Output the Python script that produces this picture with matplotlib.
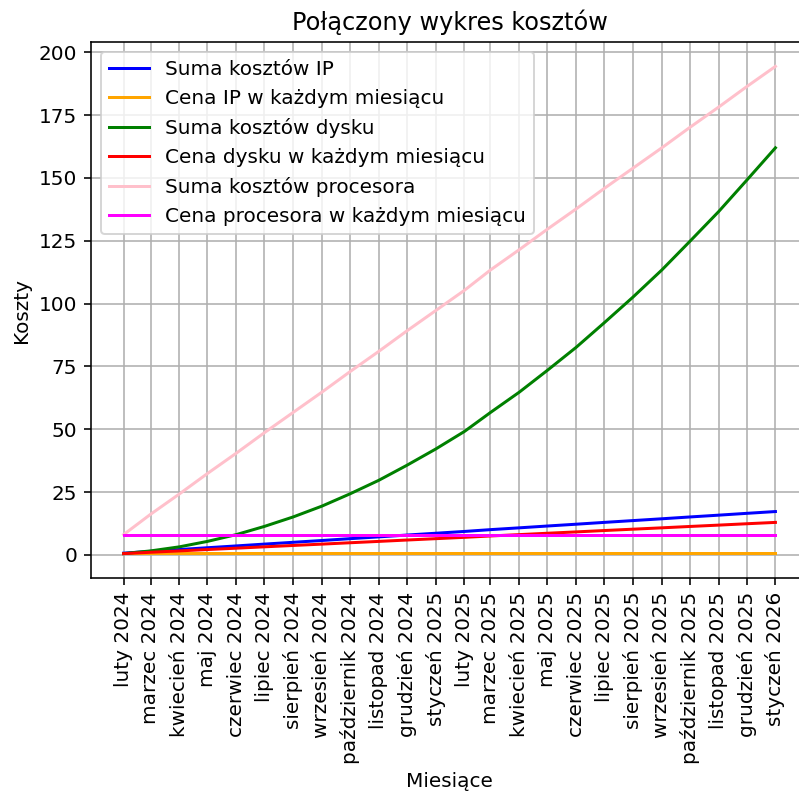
import matplotlib
matplotlib.use("Agg")
import matplotlib.pyplot as plt
import datetime as dt

dates = [dt.date(2024, m, 1) for m in range(2, 13)] + [dt.date(2025, m, 1) for m in range(1, 13)] + [dt.date(2026, 1, 1)]
labels = ["luty 2024", "marzec 2024", "kwiecień 2024", "maj 2024", "czerwiec 2024", "lipiec 2024",
          "sierpień 2024", "wrzesień 2024", "październik 2024", "listopad 2024", "grudzień 2024",
          "styczeń 2025", "luty 2025", "marzec 2025", "kwiecień 2025", "maj 2025", "czerwiec 2025",
          "lipiec 2025", "sierpień 2025", "wrzesień 2025", "październik 2025", "listopad 2025",
          "grudzień 2025", "styczeń 2026"]

ip_price = [0.72] * 24
ip_sum = [0.72, 1.44, 2.16, 2.88, 3.6, 4.32, 5.04, 5.76, 6.48, 7.2, 7.92, 8.64, 9.36, 10.08,
          10.8, 11.52, 12.24, 12.96, 13.68, 14.4, 15.12, 15.84, 16.56, 17.28]
disk_price = [0.54, 1.08, 1.62, 2.16, 2.7, 3.24, 3.78, 4.32, 4.86, 5.4, 5.94, 6.48, 7.02, 7.56,
              8.1, 8.64, 9.18, 9.72, 10.26, 10.8, 11.34, 11.88, 12.42, 12.96]
disk_sum = [0.54, 1.62, 3.24, 5.4, 8.1, 11.34, 15.12, 19.44, 24.3, 29.7, 35.64, 42.12, 49.14,
            56.7, 64.8, 73.44, 82.62, 92.34, 102.6, 113.4, 124.74, 136.62, 149.04, 162.0]
cpu_price = [8.1] * 24
cpu_sum = [8.1, 16.2, 24.3, 32.4, 40.5, 48.6, 56.7, 64.8, 72.9, 81.0, 89.1, 97.2, 105.3, 113.4,
           121.5, 129.6, 137.7, 145.8, 153.9, 162.0, 170.1, 178.2, 186.3, 194.4]

DPI = 144
fig, ax = plt.subplots(figsize=(799 / DPI, 796 / DPI), dpi=DPI)
fig.subplots_adjust(left=0.1139, right=1.0113, top=0.9472, bottom=0.2739)

ax.plot(dates, ip_sum, color="blue", label="Suma kosztów IP")
ax.plot(dates, ip_price, color="orange", label="Cena IP w każdym miesiącu")
ax.plot(dates, disk_sum, color="green", label="Suma kosztów dysku")
ax.plot(dates, disk_price, color="red", label="Cena dysku w każdym miesiącu")
ax.plot(dates, cpu_sum, color="pink", label="Suma kosztów procesora")
ax.plot(dates, cpu_price, color="magenta", label="Cena procesora w każdym miesiącu")

ax.set_xticks(dates)
ax.set_xticklabels(labels, rotation=90)
ax.set_xlabel("Miesiące")
ax.set_ylabel("Koszty")
ax.set_title("Połączony wykres kosztów")
ax.grid(True)
ax.legend(loc="upper left")

fig.savefig("out.png", dpi=DPI)
